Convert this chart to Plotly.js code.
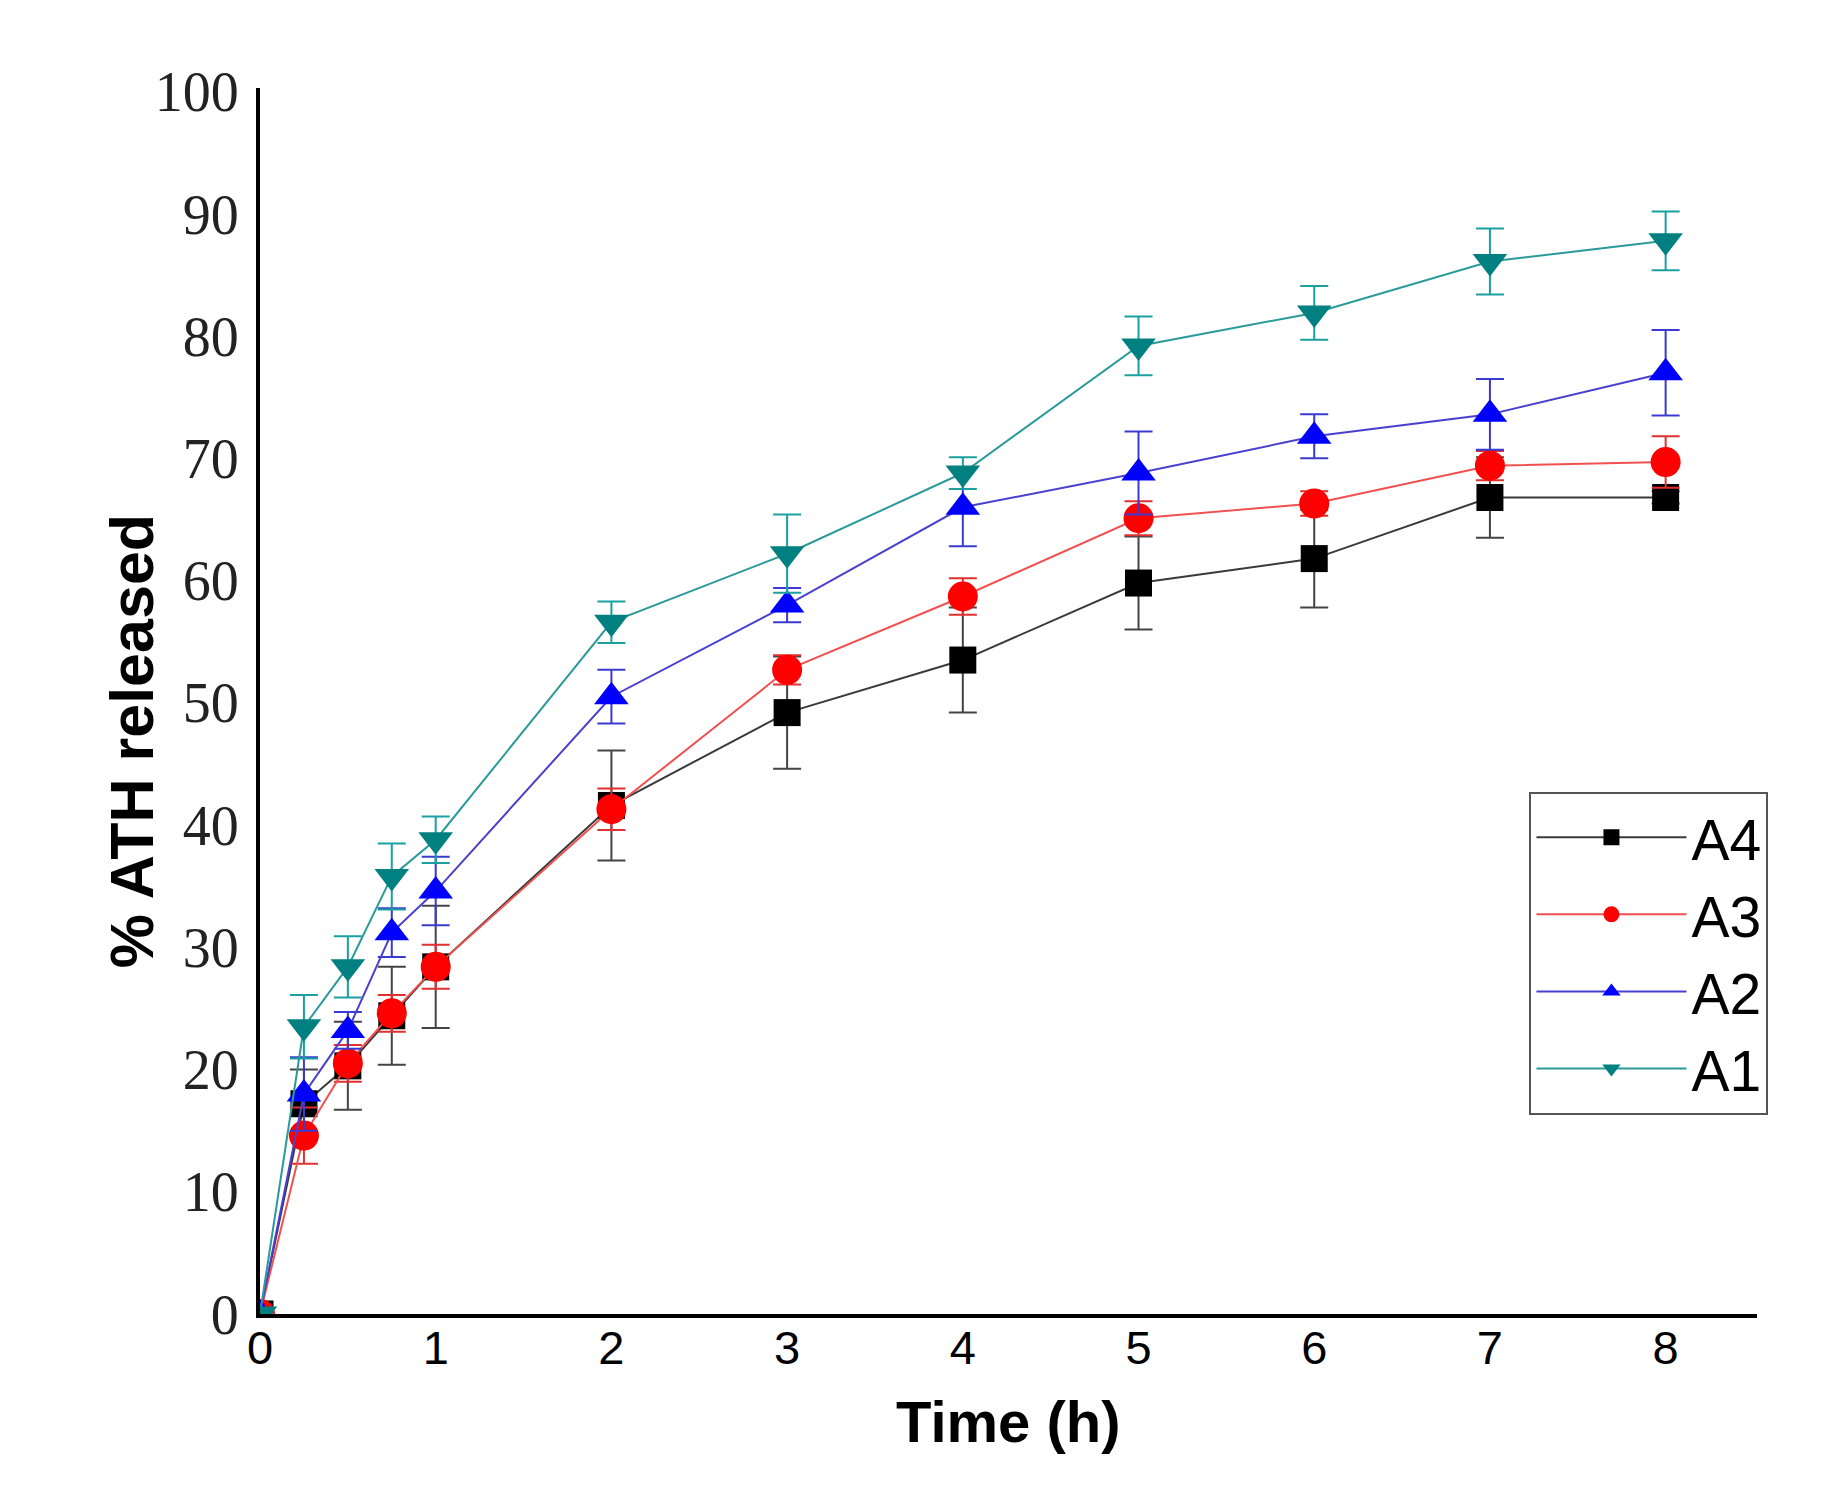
<!DOCTYPE html>
<html>
<head>
<meta charset="utf-8">
<script src="https://cdn.plot.ly/plotly-3.0.1.min.js"></script>
<style>
  html, body { margin: 0; padding: 0; background: #fff; }
  #chart { width: 1837px; height: 1495px; }
</style>
</head>
<body>
<div id="chart"></div>
<script>
// release time points (h)
const hours = [0, 0.25, 0.5, 0.75, 1, 2, 3, 4, 5, 6, 7, 8];
const timeTicks = [0, 1, 2, 3, 4, 5, 6, 7, 8];

// % ATH released, mean and error for each formulation
const a4 = [0, 17.2, 20.3, 24.4, 28.4, 41.6, 49.2, 53.5, 59.8, 61.8, 66.8, 66.8];
const a4Err = [0, 2.8, 3.6, 4.0, 5.0, 4.5, 4.6, 4.3, 3.8, 4.0, 3.3, 0.5];
const a3 = [0, 14.6, 20.5, 24.6, 28.4, 41.3, 52.7, 58.7, 65.1, 66.3, 69.4, 69.7];
const a3Err = [0, 2.3, 1.5, 1.5, 1.8, 1.7, 1.2, 1.5, 1.4, 1.0, 1.2, 2.1];
const a2 = [0, 18.0, 23.2, 31.2, 34.6, 50.5, 58.0, 66.0, 68.8, 71.8, 73.6, 77.0];
const a2Err = [0, 3.0, 1.5, 2.0, 2.8, 2.2, 1.4, 3.2, 3.4, 1.8, 2.9, 3.5];
const a1 = [0, 23.5, 28.4, 35.8, 38.8, 56.6, 62.2, 68.8, 79.2, 81.9, 86.1, 87.8];
const a1Err = [0, 2.6, 2.5, 2.7, 1.9, 1.7, 3.2, 1.3, 2.4, 2.2, 2.7, 2.4];

const SANS = 'Liberation Sans, Arial, sans-serif';
const SERIF = 'Liberation Serif, Times New Roman, serif';

function series(name, y, err, sym, size, mcol, lcol, ecol) {
  return {
    x: hours, y: y, name: name, type: 'scatter', mode: 'lines+markers',
    line: { color: lcol, width: 2 },
    marker: { symbol: sym, size: size, color: mcol },
    error_y: { type: 'data', array: err, visible: true, color: ecol, thickness: 2, width: 14 },
  };
}

const traces = [
  series('A4', a4, a4Err, 'square', 27, '#000000', '#3a3a3a', '#444444'),
  series('A3', a3, a3Err, 'circle', 30, '#ff0000', '#f05050', '#e03030'),
  series('A2', a2, a2Err, 'triangle-up', 30, '#0000ff', '#4a40d0', '#3a3ad0'),
  series('A1', a1, a1Err, 'triangle-down', 30, '#008080', '#2a9a9a', '#1aa0a0'),
];

const layout = {
  width: 1837, height: 1495,
  margin: { l: 260, r: 80, t: 88, b: 181, pad: 0 },
  paper_bgcolor: '#fff', plot_bgcolor: '#fff',
  showlegend: true,
  legend: {
    x: 0.848, y: 0.426, xanchor: 'left', yanchor: 'top',
    bordercolor: '#555', borderwidth: 2, bgcolor: '#fff',
    font: { family: SANS, size: 57, color: '#000' },
    itemwidth: 150, tracegroupgap: 0,
  },
  xaxis: {
    range: [0, 8.52], tickvals: timeTicks, ticks: '', showgrid: false, zeroline: false,
    showline: true, linecolor: '#000', linewidth: 4,
    tickfont: { family: SANS, size: 47, color: '#000' },
    ticklabelstandoff: -10,
  },
  yaxis: {
    range: [0, 100.3], dtick: 10, ticks: '', showgrid: false, zeroline: false,
    showline: true, linecolor: '#000', linewidth: 4,
    tickfont: { family: SERIF, size: 56, color: '#222' },
    ticklabelstandoff: 6,
  },
  annotations: [
    { text: '<b>Time (h)</b>', xref: 'paper', yref: 'paper', x: 0.5, y: -0.088,
      xanchor: 'center', yanchor: 'middle', showarrow: false,
      font: { family: SANS, size: 58, color: '#000' } },
    { text: '<b>% ATH released</b>', xref: 'paper', yref: 'paper', x: -0.085, y: 0.467,
      xanchor: 'center', yanchor: 'middle', showarrow: false, textangle: -90,
      font: { family: SANS, size: 61, color: '#000' } },
  ],
};

Plotly.newPlot('chart', traces, layout, { displayModeBar: false, staticPlot: true });
</script>
</body>
</html>
